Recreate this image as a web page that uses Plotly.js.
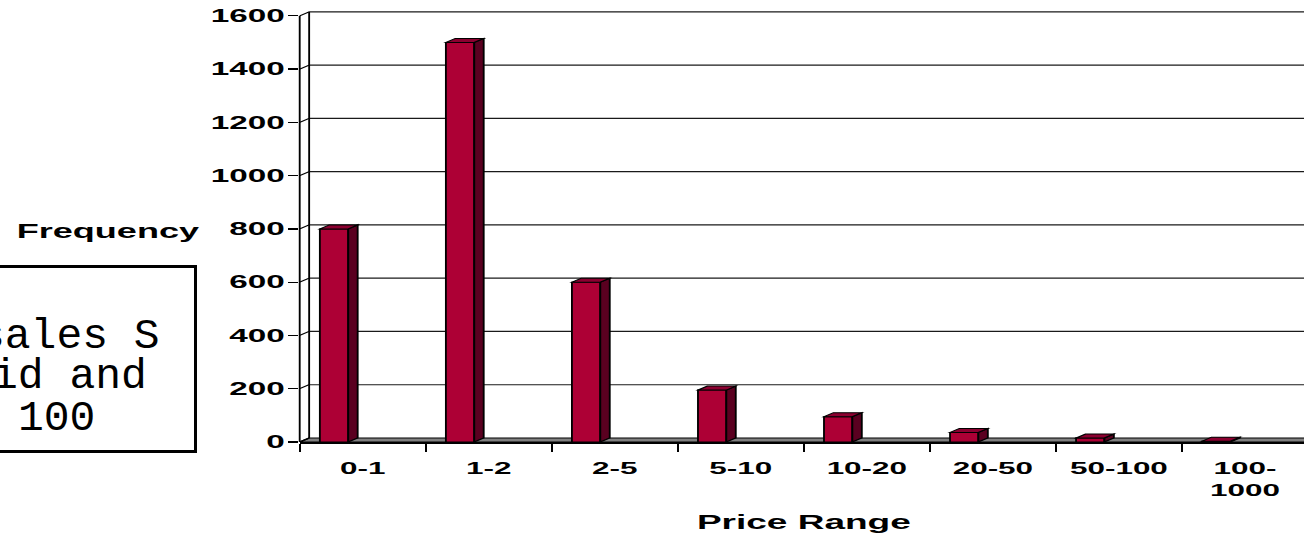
<!DOCTYPE html>
<html><head><meta charset="utf-8">
<script src="https://cdn.plot.ly/plotly-3.0.1.min.js"></script>
<style>
html,body{margin:0;padding:0;background:#fff;overflow:hidden;width:1304px;height:535px}
#wrap{position:absolute;left:0;top:0;width:1304px;height:535px;overflow:hidden;background:#fff}
#chart{position:absolute;left:0;top:0;width:710px;height:535px;transform:scaleX(1.85);transform-origin:0 0}
#box{position:absolute;left:-150px;top:265px;width:347px;height:188px;box-sizing:border-box;border:3px solid #000;background:#fff}
.bl{position:absolute;font-family:"Liberation Mono","Courier New",monospace;font-size:43px;line-height:36px;white-space:pre;color:#000}
</style></head><body>
<div id="wrap">
<div id="chart"></div>
<div id="box"></div>
</div>
<script>
// ---- data ----
const categories = ['0-1', '1-2', '2-5', '5-10', '10-20', '20-50', '50-100', '100-1000'];
const tickLabels = ['0-1', '1-2', '2-5', '5-10', '10-20', '20-50', '50-100', '100-<br>1000'];
const frequency = [800, 1500, 600, 195, 95, 36, 15, 3];
const yTicks = [0, 200, 400, 600, 800, 1000, 1200, 1400, 1600];
const boxLines = ['sales S', 'id and', '100'];
const xTitle = 'Price Range';
const yTitle = 'Frequency';

// ---- style constants ----
const FRONT = '#AD0035', SIDE = '#5A0020', TOP = '#8C0030', FLOOR = '#808080';
const DX = 0.075;   // depth of the 3-D box in category units
const DY = 15;      // depth of the 3-D box in value units
const BAR_OFF = -0.34, BAR_W = 0.225;
const FONT = '"Liberation Sans", Arial, Helvetica, sans-serif';

const xIdx = categories.map((c, i) => i);
const bounds = categories.map((c, i) => i - 0.5).concat([categories.length - 0.5]);
const xMin = -0.5, xMax = categories.length - 0.5;
const yTop = yTicks[yTicks.length - 1];

const shapes = [];
// back wall gridlines
yTicks.slice(1).forEach(v => shapes.push({type:'line', xref:'x', yref:'y', layer:'below',
  x0: xMin + DX, x1: xMax + 1, y0: v + DY, y1: v + DY, line:{color:'#1a1a1a', width:1.2}}));
// floor
shapes.push({type:'path', xref:'x', yref:'y', layer:'below',
  path:`M${xMin},0 L${xMax + 1},0 L${xMax + 1},${DY} L${xMin + DX},${DY} Z`,
  fillcolor: FLOOR, line:{color:'#000', width:1.2}});
// back wall left edge
shapes.push({type:'line', xref:'x', yref:'y', layer:'below',
  x0: xMin + DX, x1: xMin + DX, y0: DY, y1: yTop + DY, line:{color:'#000', width:1}});
// side wall diagonals
yTicks.forEach(v => shapes.push({type:'line', xref:'x', yref:'y', layer:'below',
  x0: xMin, x1: xMin + DX, y0: v, y1: v + DY, line:{color:'#000', width:1}}));
// front value axis line
shapes.push({type:'line', xref:'paper', yref:'y', layer:'above',
  x0: 0, x1: 0, y0: 0, y1: yTop, line:{color:'#000', width:1}});
// 3-D faces of the bars
frequency.forEach((v, i) => {
  const L = i + BAR_OFF, R = i + BAR_OFF + BAR_W;
  shapes.push({type:'path', xref:'x', yref:'y', layer:'above',
    path:`M${R},0 L${R + DX},${DY} L${R + DX},${v + DY} L${R},${v} Z`,
    fillcolor: SIDE, line:{color:'#000', width:1}});
  shapes.push({type:'path', xref:'x', yref:'y', layer:'above',
    path:`M${L},${v} L${R},${v} L${R + DX},${v + DY} L${L + DX},${v + DY} Z`,
    fillcolor: TOP, line:{color:'#000', width:1}});
});

const trace = {
  type:'bar', x: xIdx, y: frequency, offset: BAR_OFF, width: BAR_W,
  marker:{color: FRONT, line:{color:'#000', width:1}}, hoverinfo:'skip'
};

const W = 710, PLOT_W = 545.7;
const layout = {
  width: W, height: 535,
  margin:{l:161.6, r: W - 161.6 - PLOT_W, t:11.2, b:92.5, pad:0},
  paper_bgcolor:'rgba(0,0,0,0)', plot_bgcolor:'rgba(0,0,0,0)',
  showlegend:false, bargap:0,
  font:{family: FONT, color:'#000'},
  xaxis:{range:[xMin, xMax], tickmode:'array', tickvals: xIdx, ticktext: tickLabels,
    ticks:'outside', ticklen:8, tickcolor:'rgba(0,0,0,0)', ticklabelstandoff:2,
    minor:{tickmode:'array', tickvals: bounds, ticks:'outside', ticklen:8, tickwidth:1, tickcolor:'#000', showgrid:false},
    showgrid:false, zeroline:false, showline:true, linecolor:'#000', linewidth:1.5,
    tickfont:{family: FONT, size:17, weight:700},
    title:{text: xTitle, font:{family: FONT, size:20, weight:700}, standoff:16}},
  yaxis:{range:[0, yTop + DY + 3], tickmode:'array', tickvals: yTicks, ticktext: yTicks.map(String),
    ticks:'outside', ticklen:5.4, tickwidth:1.2, tickcolor:'#000', ticklabelstandoff:-2,
    showgrid:false, zeroline:false, showline:false,
    tickfont:{family: FONT, size:18, weight:700}},
  shapes: shapes,
  annotations:[{xref:'paper', x:0, xanchor:'right', xshift:-51.9, yref:'y', y:793, yanchor:'middle',
    text: yTitle, showarrow:false, font:{family: FONT, size:19.5, weight:700}}]
};

Plotly.newPlot('chart', [trace], layout, {staticPlot:true, displayModeBar:false});

// text box (partly outside the picture on the left)
const lineLeft = [-21, -8, 18], lineTop = [318.5, 358.5, 400.5];
const wrap = document.getElementById('wrap');
boxLines.forEach((t, i) => {
  const d = document.createElement('div');
  d.className = 'bl';
  d.style.left = lineLeft[i] + 'px';
  d.style.top = lineTop[i] + 'px';
  d.textContent = t;
  wrap.appendChild(d);
});
</script>
</body></html>
